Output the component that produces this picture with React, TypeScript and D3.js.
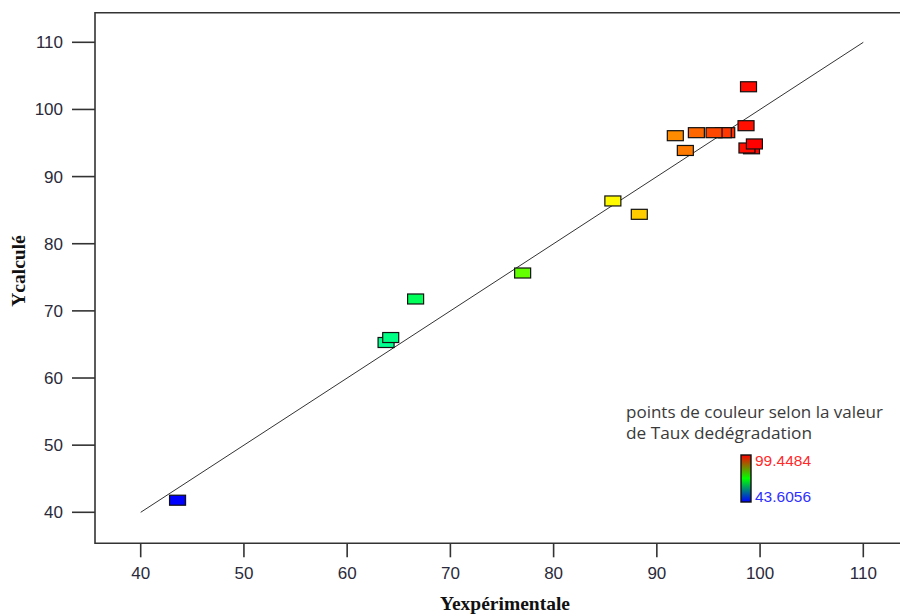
import React from "react";
import * as d3 from "d3";

// Experimental (x) vs calculated (y) values, in drawing order
const experimental = [43.57, 63.77, 64.22, 66.63, 77.0, 85.74, 88.3, 91.79, 92.76, 96.77, 96.44, 95.54, 93.83, 98.88, 98.64, 99.17, 98.73, 99.45];
const calculated = [41.8, 65.29, 66.03, 71.77, 75.64, 86.37, 84.38, 96.09, 93.89, 96.54, 96.54, 96.54, 96.54, 103.38, 97.58, 94.14, 94.26, 94.86];

const xTicks = [40, 50, 60, 70, 80, 90, 100, 110];
const yTicks = [40, 50, 60, 70, 80, 90, 100, 110];

const colorMin = 43.6056;
const colorMax = 99.4484;

const legendLines = ["points de couleur selon la valeur", "de Taux dedégradation"];

export default function App() {
  const W = 900;
  const H = 614;
  const x = d3.scaleLinear().domain([40, 110]).range([140.7, 863.3]);
  const y = d3.scaleLinear().domain([40, 110]).range([512.3, 42.3]);
  const frameL = 95;
  const frameT = 12.7;
  const frameB = 543.3;
  const frameR = 912;

  const t = d3.scaleLinear().domain([colorMin, colorMax]).range([0, 1]).clamp(true);
  const col = d3
    .scaleLinear<string>()
    .domain([0, 0.25, 0.5, 0.75, 1])
    .range(["#0000ff", "#00ffff", "#00ff00", "#ffff00", "#ff0000"])
    .interpolate(d3.interpolateRgb);

  const rw = 16;
  const rh = 10;
  const tickColor = "#2a2a3a";

  return (
    <svg width={W} height={H} style={{ position: "absolute", left: 0, top: 0, background: "#fff" }}>
      <defs>
        <linearGradient id="cbar" x1="0" y1="0" x2="0" y2="1">
          <stop offset="0" stopColor="#ff0000" />
          <stop offset="0.5" stopColor="#00ff00" />
          <stop offset="1" stopColor="#0000ff" />
        </linearGradient>
      </defs>
      {/* frame */}
      <path
        d={`M${frameR},${frameT}H${frameL}V${frameB}H${frameR}`}
        fill="none"
        stroke="#333"
        strokeWidth={1.6}
      />
      {/* y ticks */}
      {yTicks.map((v) => (
        <g key={"y" + v}>
          <line x1={72} x2={frameL} y1={y(v)} y2={y(v)} stroke="#333" strokeWidth={1.6} />
          <text
            x={63}
            y={y(v) + 6}
            textAnchor="end"
            fontFamily="'Liberation Sans', Arial, sans-serif"
            fontSize={17}
            fill={tickColor}
          >
            {v}
          </text>
        </g>
      ))}
      {/* x ticks */}
      {xTicks.map((v) => (
        <g key={"x" + v}>
          <line x1={x(v)} x2={x(v)} y1={frameB} y2={frameB + 14} stroke="#333" strokeWidth={1.6} />
          <text
            x={x(v)}
            y={579}
            textAnchor="middle"
            fontFamily="'Liberation Sans', Arial, sans-serif"
            fontSize={17}
            fill={tickColor}
          >
            {v}
          </text>
        </g>
      ))}
      {/* axis titles */}
      <text
        x={505}
        y={610}
        textAnchor="middle"
        fontFamily="'Liberation Serif', 'Times New Roman', serif"
        fontWeight="bold"
        fontSize={19.5}
        fill="#111"
      >
        Yexpérimentale
      </text>
      <text
        transform={`translate(25,271) rotate(-90)`}
        textAnchor="middle"
        fontFamily="'Liberation Serif', 'Times New Roman', serif"
        fontWeight="bold"
        fontSize={19.5}
        fill="#111"
      >
        Ycalculé
      </text>
      {/* diagonal */}
      <line x1={x(40)} y1={y(40)} x2={x(110)} y2={y(110)} stroke="#333" strokeWidth={1} />
      {/* points */}
      {experimental.map((v, i) => (
        <rect
          key={i}
          x={x(v) - rw / 2}
          y={y(calculated[i]) - rh / 2}
          width={rw}
          height={rh}
          fill={col(t(v))}
          stroke="#111"
          strokeWidth={1.2}
        />
      ))}
      {/* legend */}
      {legendLines.map((s, i) => (
        <text
          key={s}
          x={626}
          y={418 + i * 21}
          fontFamily="'Open Sans', 'Noto Sans', sans-serif"
          fontSize={16}
          fill="#3a3a3a"
          textLength={i === 0 ? 257 : 186}
          lengthAdjust="spacingAndGlyphs"
        >
          {s}
        </text>
      ))}
      <rect x={741} y={455} width={10} height={47} fill="url(#cbar)" stroke="#111" strokeWidth={1.4} />
      <text x={755} y={466} fontFamily="'Liberation Sans', Arial, sans-serif" fontSize={15.5} fill="#ff2a2a">
        {colorMax}
      </text>
      <text x={755} y={502} fontFamily="'Liberation Sans', Arial, sans-serif" fontSize={15.5} fill="#3030ff">
        {colorMin}
      </text>
    </svg>
  );
}
